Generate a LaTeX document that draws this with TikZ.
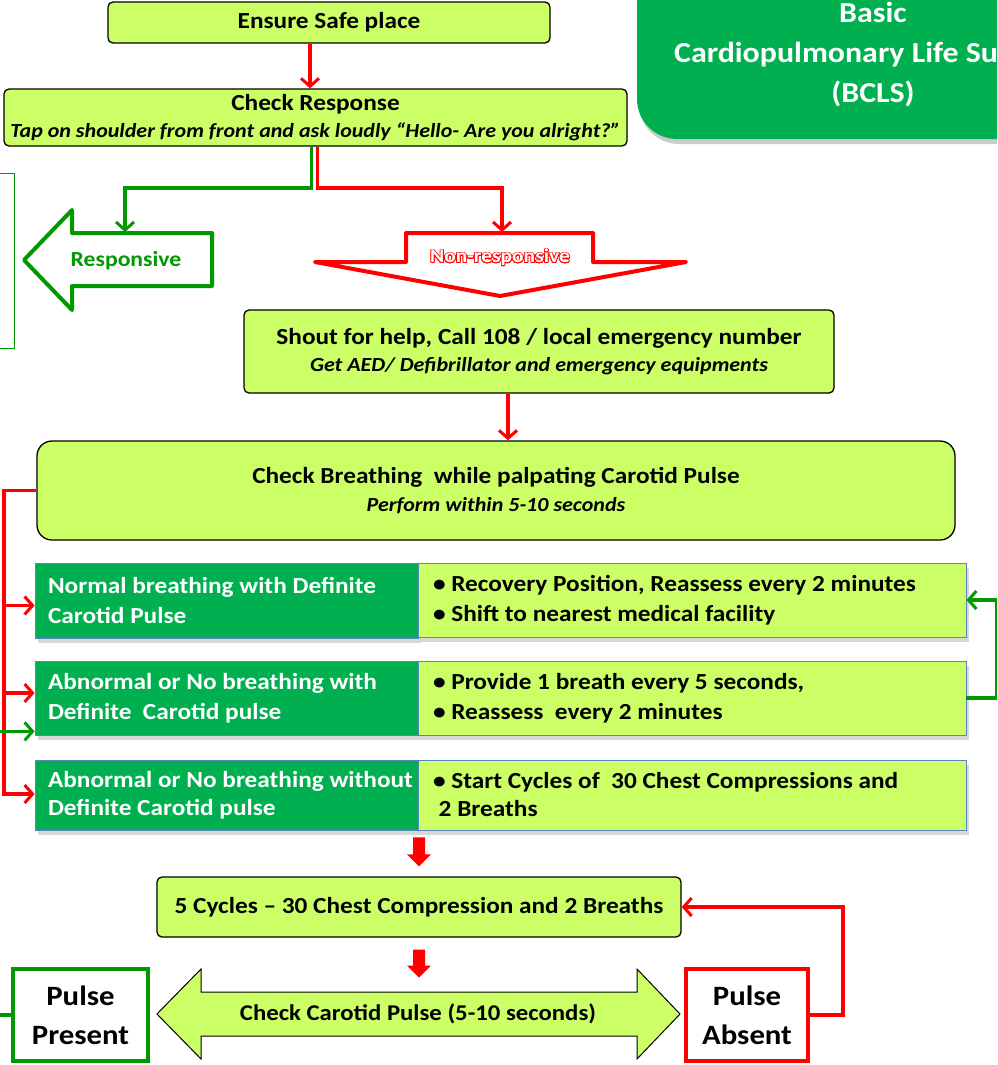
\documentclass[tikz,border=0pt]{standalone}
\usepackage{fontspec}
\setmainfont{Carlito}[FakeStretch=1.1]
\usepackage[copies]{contour}
\contourlength{0.7pt}
\usetikzlibrary{arrows.meta,calc,shadows}
\definecolor{lime}{HTML}{CCFF66}
\definecolor{dgreen}{HTML}{00B050}
\definecolor{cgreen}{HTML}{009A00}
\definecolor{cred}{HTML}{FF0000}
\definecolor{rowborder}{HTML}{5A86C0}
\begin{document}
\begin{tikzpicture}[x=1pt,y=-1pt,
  mainfont/.style={font=\fontsize{23}{28}\selectfont\bfseries},
  box/.style={draw=black, line width=1.3pt, fill=lime, rounded corners=5pt, inner sep=0pt, align=center, mainfont},
  rowdark/.style={draw=rowborder, line width=0.8pt, fill=dgreen, text=white, inner xsep=13pt, inner ysep=0pt, align=flush left, font=\fontsize{23}{30}\selectfont\bfseries, drop shadow={shadow xshift=3pt, shadow yshift=-5pt, opacity=0.3}},
  rowlight/.style={draw=rowborder, line width=0.8pt, fill=lime, inner xsep=15pt, inner ysep=0pt, align=flush left, font=\fontsize{23}{30}\selectfont\bfseries, drop shadow={shadow xshift=3pt, shadow yshift=-5pt, opacity=0.3}},
  redline/.style={draw=cred, line width=3.5pt, -{Straight Barb[length=8pt,width=18pt,line width=3pt]}},
  greenline/.style={draw=cgreen, line width=3.5pt, -{Straight Barb[length=8pt,width=18pt,line width=3pt]}},
  outcome/.style={draw, line width=4pt, fill=white, inner sep=0pt, align=center, font=\fontsize{28}{39}\selectfont\bfseries},
]
\clip (0,0) rectangle (997,1065);
\fill[white] (0,0) rectangle (997,1065);

% title
\node[draw=none, fill=dgreen, rounded corners=40pt, minimum width=490pt, minimum height=180pt,
      drop shadow={shadow xshift=2pt, shadow yshift=-5pt, opacity=0.4}] (titlebox) at (882,49) {};
\node[text=white, align=center, font=\fontsize{29}{40}\selectfont\bfseries] (title) at (873,55)
  {Basic\\Cardiopulmonary Life Support\\(BCLS)};

% top boxes
\node[box, minimum width=442pt, minimum height=41pt] (n1) at (329,22.5) {Ensure Safe place};
\node[box, minimum width=623pt, minimum height=57pt] (n2) at (315.5,117.5)
  {\fontsize{23}{24}\selectfont Check Response\\[-1pt]{\fontsize{20}{20}\selectfont\itshape Tap on shoulder from front and ask loudly “Hello- Are you alright?”}};

% left green frame
\node[draw=cgreen, line width=1pt, minimum width=40pt, minimum height=175pt, inner sep=0pt] (leftbox) at (-6,260.5) {};

% responsive arrow
\draw[cgreen, line width=4pt, line join=round, fill=white]
  (212,233) -- (72,233) -- (72,210) -- (24,260) -- (72,310) -- (72,286) -- (212,286) -- cycle;
\node[text=cgreen, font=\fontsize{21.5}{24}\selectfont\bfseries] (resp) at (126,261) {Responsive};
\coordinate (resptop) at (125,232);

% non-responsive arrow
\draw[cred, line width=4pt, line join=round, fill=white]
  (406,233) -- (593,233) -- (593,262) -- (686,262) -- (500,296) -- (315,262) -- (406,262) -- cycle;
\node[font=\fontsize{19.5}{22}\selectfont\bfseries] (nonresp) at (500,258) {\contour{cred}{\textcolor{white}{Non-responsive}}};
\coordinate (nrtop) at (502,232);

% check response branches
\draw[greenline] ([xshift=-4pt]n2.south) |- (190,188) -| (resptop);
\draw[redline] ([xshift=2pt]n2.south) |- (420,188) -| (nrtop);
\draw[redline] (n1.south -| 310,0) -- (n2.north -| 310,0);

% shout box
\node[box, minimum width=590pt, minimum height=83pt] (n3) at (539,351.5)
  {Shout for help, Call 108 / local emergency number\\[-1pt]{\fontsize{20}{20}\selectfont\itshape Get AED/ Defibrillator and emergency equipments}};

% check breathing
\node[box, rounded corners=15pt, minimum width=918pt, minimum height=99pt] (n4) at (496,490.5)
  {Check Breathing\ \ while palpating Carotid Pulse\\[0pt]{\fontsize{20}{20}\selectfont\itshape Perform within 5-10 seconds}};
\draw[redline] ([xshift=-31pt]n3.south) -- ([xshift=-31pt]n3.south |- n4.north);

% rows
\node[rowdark, minimum width=383pt, minimum height=75pt, text width=357pt] (r1a) at (226.5,600.5)
  {Normal breathing with Definite\\Carotid Pulse};
\node[rowlight, minimum width=548pt, minimum height=74pt, text width=518pt] (r1b) at (692,600)
  {• Recovery Position, Reassess every 2 minutes\\• Shift to nearest medical facility};
\node[rowdark, minimum width=383pt, minimum height=74pt, text width=357pt] (r2a) at (226.5,698)
  {Abnormal or No breathing with\\Definite\ \ Carotid pulse};
\node[rowlight, minimum width=548pt, minimum height=74pt, text width=518pt] (r2b) at (692,698)
  {• Provide 1 breath every 5 seconds,\\• Reassess\ \ every 2 minutes};
\node[rowdark, minimum width=383pt, minimum height=70pt, text width=357pt, font=\fontsize{23}{28}\selectfont\bfseries] (r3a) at (226.5,795)
  {\mbox{Abnormal or No breathing without}\\Definite Carotid pulse};
\node[rowlight, minimum width=548pt, minimum height=70pt, text width=518pt, font=\fontsize{23}{28}\selectfont\bfseries] (r3b) at (692,795)
  {• Start Cycles of\ \ 30 Chest Compressions and\\\ 2 Breaths};

% red bus from check breathing
\coordinate (bus) at (4,0);
\draw[redline] (n4.west) -| ([yshift=1pt]r3a.west -| bus) -- ([yshift=1pt]r3a.west);
\draw[redline] ([yshift=-5pt]r1a.west -| bus) -- ([yshift=-5pt]r1a.west);
\draw[redline] ([yshift=5pt]r2a.west -| bus) -- ([yshift=5pt]r2a.west);

% green loop right
\draw[greenline] (r2b.east) -- ++(30,0) |- (r1b.east);

% 5 cycles
\node[box, minimum width=524pt, minimum height=60pt] (n5) at (419,907)
  {5 Cycles – 30 Chest Compression and 2 Breaths};
\fill[cred] ($(n5.north)+(-6,-39)$) -- ($(n5.north)+(6,-39)$) -- ($(n5.north)+(6,-22)$) -- ($(n5.north)+(12,-22)$)
  -- ($(n5.north)+(0,-10)$) -- ($(n5.north)+(-12,-22)$) -- ($(n5.north)+(-6,-22)$) -- cycle;
\fill[cred] ($(n5.south)+(-6,12)$) -- ($(n5.south)+(6,12)$) -- ($(n5.south)+(6,28)$) -- ($(n5.south)+(12,28)$)
  -- ($(n5.south)+(0,40)$) -- ($(n5.south)+(-12,28)$) -- ($(n5.south)+(-6,28)$) -- cycle;

% double arrow
\draw[black, line width=1pt, fill=lime, line join=miter]
  (157,1014) -- (201,969) -- (201,992) -- (637,992) -- (637,969) -- (680,1014)
  -- (637,1059) -- (637,1036) -- (201,1036) -- (201,1059) -- cycle;
\node[font=\fontsize{22.5}{24}\selectfont\bfseries] (n6) at (418,1014) {Check Carotid Pulse (5-10 seconds)};

% outcomes
\node[outcome, draw=cgreen, minimum width=135pt, minimum height=92pt] (pp) at (80.5,1015) {Pulse\\Present};
\node[outcome, draw=cred, minimum width=122pt, minimum height=92pt] (pa) at (747,1015) {Pulse\\Absent};
\draw[redline] (pa.east) -- ++(33,0) |- (n5.east);
\draw[greenline] (pp.west) -- ++(-22,0) |- ([yshift=4pt]r2a.south west);
\end{tikzpicture}
\end{document}
